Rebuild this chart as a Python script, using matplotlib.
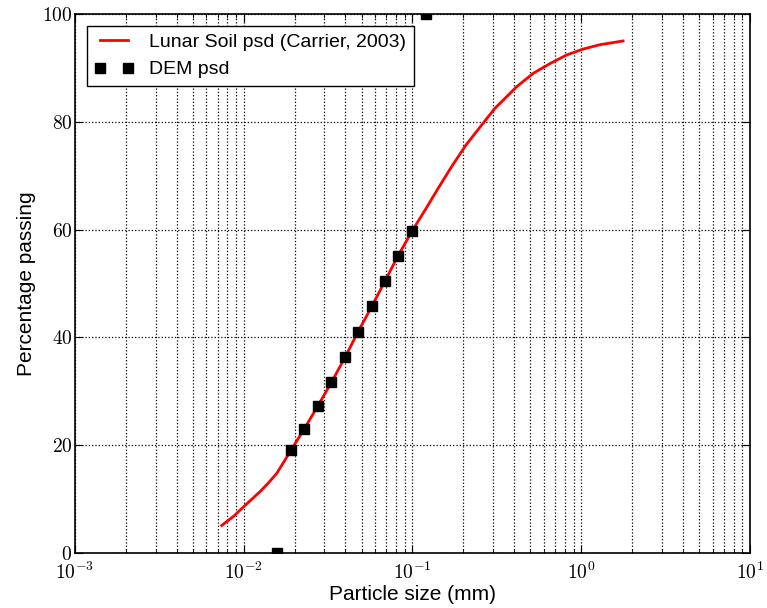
import matplotlib.pyplot as plt
import numpy as np

plt.rcParams['font.family'] = ['Liberation Sans', 'DejaVu Sans']
plt.rcParams['mathtext.fontset'] = 'cm'

# Carrier (2003) lunar soil psd
carrier_size = [0.0074, 0.0087, 0.0100, 0.0125, 0.0140, 0.0157, 0.0172, 0.019, 0.0228,
                0.0275, 0.033, 0.040, 0.0475, 0.0575, 0.0688, 0.082, 0.0993, 0.1186,
                0.1422, 0.1707, 0.2075, 0.257, 0.308, 0.36, 0.414, 0.520, 0.653,
                0.820, 1.029, 1.29, 1.77]
carrier_pass = [5.1, 6.8, 8.6, 11.4, 13.0, 14.8, 16.8, 19.0, 23.0,
                27.3, 31.6, 36.4, 41.0, 45.8, 50.5, 55.1, 59.7, 63.6,
                67.7, 71.7, 75.7, 79.4, 82.5, 84.6, 86.5, 89.0, 90.8,
                92.4, 93.5, 94.3, 95.0]

# DEM psd
dem_size = [0.0157, 0.019, 0.0228, 0.0275, 0.0329, 0.0398, 0.0475, 0.0575, 0.0688,
            0.082, 0.0993, 0.120]
dem_pass = [0.0, 19.1, 23.0, 27.3, 31.7, 36.4, 41.0, 45.8, 50.5, 55.1, 59.7, 100.0]

xticks = [1e-3, 1e-2, 1e-1, 1e0, 1e1]
xticklabels = ['$10^{-3}$', '$10^{-2}$', '$10^{-1}$', '$10^{0}$', '$10^{1}$']
yticks = [0, 20, 40, 60, 80, 100]

fig = plt.figure(figsize=(7.67, 6.08), dpi=100)
ax = fig.add_axes([0.0978, 0.0905, 0.88, 0.8865])

ax.plot(carrier_size, carrier_pass, color='red', lw=2, solid_joinstyle='round',
        label='Lunar Soil psd (Carrier, 2003)')
ax.plot(dem_size, dem_pass, 's', color='black', ms=7, label='DEM psd')

ax.set_xscale('log')
ax.set_xlim(1e-3, 10)
ax.set_ylim(0, 100)
ax.set_xticks(xticks)
ax.set_xticklabels(xticklabels)
ax.set_yticks(yticks)
ax.set_yticklabels(['$%d$' % v for v in yticks])

ax.grid(True, which='both', axis='x', ls=':', color='black', lw=0.9)
ax.grid(True, which='major', axis='y', ls=':', color='black', lw=0.9)

ax.tick_params(which='both', direction='in', top=True, right=True, labelsize=14)
ax.tick_params(axis='x', pad=6)
ax.tick_params(axis='y', pad=2)
ax.tick_params(which='major', length=6)
ax.tick_params(which='minor', length=3)
for s in ax.spines.values():
    s.set_linewidth(1.2)

ax.set_xlabel('Particle size (mm)', fontsize=15, labelpad=2)
ax.set_ylabel('Percentage passing', fontsize=15, labelpad=4)

leg = ax.legend(loc='upper left', numpoints=2, fontsize=14, fancybox=False,
                edgecolor='black', framealpha=1, borderaxespad=0.6)
leg.get_frame().set_linewidth(1.0)

fig.savefig('out.png', dpi=100)
